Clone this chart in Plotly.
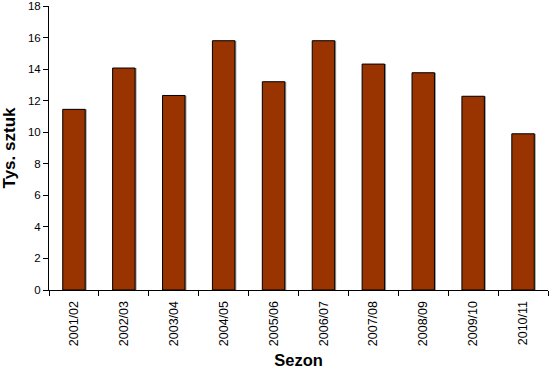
import plotly.graph_objects as go

seasons = ["2001/02", "2002/03", "2003/04", "2004/05", "2005/06",
           "2006/07", "2007/08", "2008/09", "2009/10", "2010/11"]
values = [11.45, 14.07, 12.33, 15.8, 13.2, 15.8, 14.32, 13.77, 12.28, 9.9]

y_ticks = [0, 2, 4, 6, 8, 10, 12, 14, 16, 18]

fig = go.Figure()
# subtle grey shadow behind each bar (to the right)
fig.add_trace(go.Bar(
    x=seasons, y=values,
    marker=dict(color="#9a9a9a", line=dict(width=0)),
    width=0.45, offset=-0.225 + 0.03,
    hoverinfo="skip",
))
fig.add_trace(go.Bar(
    x=seasons, y=values,
    marker=dict(color="#993300", line=dict(color="#000000", width=1)),
    width=0.45, offset=-0.225,
))

font_family = "Liberation Sans, Arial, sans-serif"
fig.update_layout(
    width=549, height=369,
    margin=dict(l=49, r=1, t=6, b=79),
    paper_bgcolor="white", plot_bgcolor="white",
    showlegend=False, barmode="overlay",
    font=dict(family=font_family, color="black", size=12),
    xaxis=dict(
        type="category", automargin=False,
        showline=True, linecolor="black", linewidth=1,
        ticks="outside", tickson="boundaries", ticklen=5, tickcolor="black",
        tickangle=-90, tickfont=dict(size=12.5), ticklabelstandoff=5,
        title=dict(text="<b>Sezon</b>", font=dict(size=16.5)),
        showgrid=False, zeroline=False,
    ),
    yaxis=dict(
        range=[0, 18.001], automargin=False,
        tickvals=y_ticks, ticklabeloverflow="allow",
        showline=True, linecolor="black", linewidth=1,
        ticks="outside", ticklen=5, tickcolor="black",
        tickfont=dict(size=11.5),
        title=dict(text="<b>Tys. sztuk</b>", font=dict(size=17), standoff=14),
        showgrid=False, zeroline=False,
    ),
)

fig.write_html("out.html", config={"displayModeBar": False},
               post_script="document.body.style.margin='0';")
